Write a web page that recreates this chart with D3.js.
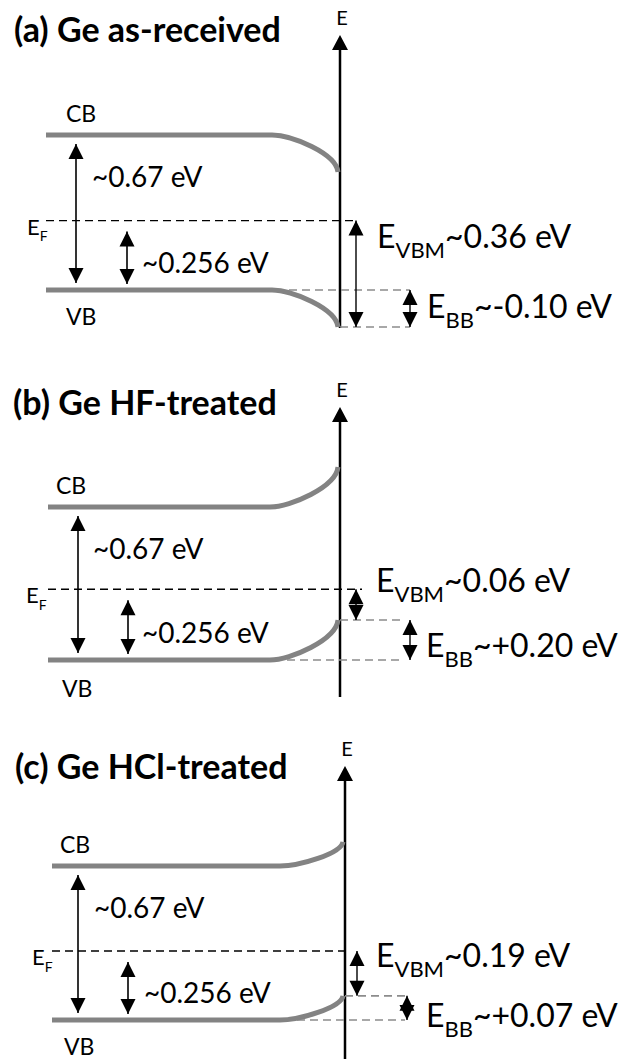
<!DOCTYPE html>
<html>
<head>
<meta charset="utf-8">
<script src="https://cdnjs.cloudflare.com/ajax/libs/d3/7.8.5/d3.min.js"></script>
<style>
    body { margin: 0; background: #fff; }
    svg { display: block; font-family: Lato, "Open Sans", sans-serif; }
</style>
</head>
<body>
<script>
// data (band levels are in eV relative to bulk VB, as drawn)
var panelTags = ["(a)", "(b)", "(c)"];
var panelNames = ["Ge as-received", "Ge HF-treated", "Ge HCl-treated"];
var bandGap = [0.67, 0.67, 0.67];
var fermiDrawn = [0.30, 0.31, 0.30];
var surfaceVB = [-0.16, 0.175, 0.105];
var gapText = "~0.67 eV";
var fermiText = "~0.256 eV";
var evbmText = ["~0.36 eV", "~0.06 eV", "~0.19 eV"];
var ebbText = ["~-0.10 eV", "~+0.20 eV", "~+0.07 eV"];

var w = 626,
    h = 1059;

// layout for each panel
var vbY = [290, 660, 1020],
    cbY = [135, 507, 866],
    lineX0 = [46, 48, 52],
    bendX = [272, 270, 280],
    axisX = [340, 340, 345],
    axisTop = [35, 407, 766],
    axisBottom = [328, 697, 1062],
    titleX = [14, 13, 15],
    titleY = [42, 415, 779],
    cbLabelX = [66, 56, 60],
    vbLabelX = [66, 62, 64],
    vbLabelY = [325, 697, 1055],
    gapArrowX = [76, 78, 78],
    gapLabelX = [92, 93, 94],
    efArrowX = [127, 128, 128],
    efLabelX = [142, 142, 144],
    efNameX = [27, 26, 32],
    efEnd = [358, 362, 345],
    vbmArrowX = [356, 356, 357],
    vbmLabelX = [377, 376, 376],
    vbmLabelY = [248, 592, 967],
    bbArrowX = [410, 410, 407],
    grayEnd = [410, 404, 405],
    bbLabelX = [427, 426, 426],
    bbLabelY = [318, 657, 1027];

var bandColor = "#838383",
    grayDash = "#8c8c8c";

var svg = d3.select("body").append("svg")
    .attr("width", w)
    .attr("height", h);

function arrowHead(g, x, tipY, dir, hw, hh) {
    // dir = -1 points up, +1 points down
    var p = d3.path();
    p.moveTo(x, tipY);
    p.lineTo(x - hw / 2, tipY - dir * hh);
    p.lineTo(x + hw / 2, tipY - dir * hh);
    p.closePath();
    g.append("path").attr("d", p.toString()).attr("fill", "#000");
}

function doubleArrow(g, x, y1, y2, sw) {
    g.append("line")
        .attr("x1", x).attr("x2", x)
        .attr("y1", y1).attr("y2", y2)
        .attr("stroke", "#000")
        .attr("stroke-width", sw);
    arrowHead(g, x, y1, -1, 15, 15);
    arrowHead(g, x, y2, 1, 15, 15);
}

function subLabel(g, x, y, main, sub, rest, size, subSize) {
    var t = g.append("text")
        .attr("x", x).attr("y", y)
        .attr("font-size", size)
        .attr("fill", "#000");
    t.append("tspan").text(main);
    t.append("tspan").attr("font-size", subSize).attr("dy", size * 0.3).text(sub);
    if (rest) {
        t.append("tspan").attr("dy", -size * 0.3).text(rest);
    }
}

function buildPanel(i) {
    var g = svg.append("g").attr("class", "panel-" + i);

    var yScale = d3.scaleLinear()
        .domain([0, bandGap[i]])
        .range([vbY[i], cbY[i]]);

    var yVB = yScale(0),
        yCB = yScale(bandGap[i]),
        yEF = yScale(fermiDrawn[i]),
        yVBs = yScale(surfaceVB[i]),
        yCBs = yScale(surfaceVB[i] + bandGap[i]);

    // title
    g.append("text")
        .attr("x", titleX[i]).attr("y", titleY[i])
        .attr("font-size", 34)
        .attr("font-weight", "bold")
        .text(panelTags[i] + " " + panelNames[i]);

    // energy axis
    g.append("line")
        .attr("x1", axisX[i]).attr("x2", axisX[i])
        .attr("y1", axisTop[i] + 8).attr("y2", axisBottom[i])
        .attr("stroke", "#000")
        .attr("stroke-width", 2.5);
    arrowHead(g, axisX[i], axisTop[i], -1, 16, 15);
    g.append("text")
        .attr("x", axisX[i] + 2).attr("y", axisTop[i] - 10)
        .attr("text-anchor", "middle")
        .attr("font-size", 20)
        .text("E");

    // grey guide lines at bulk and surface VB
    g.append("line")
        .attr("x1", bendX[i] + 4).attr("x2", grayEnd[i])
        .attr("y1", yVB).attr("y2", yVB)
        .attr("stroke", grayDash).attr("stroke-width", 1.6)
        .attr("stroke-dasharray", "8,5");
    g.append("line")
        .attr("x1", axisX[i]).attr("x2", grayEnd[i])
        .attr("y1", yVBs).attr("y2", yVBs)
        .attr("stroke", grayDash).attr("stroke-width", 1.6)
        .attr("stroke-dasharray", "8,5");

    // Fermi level
    g.append("line")
        .attr("x1", lineX0[i]).attr("x2", efEnd[i])
        .attr("y1", yEF).attr("y2", yEF)
        .attr("stroke", "#000").attr("stroke-width", 1.4)
        .attr("stroke-dasharray", "8,5");

    // bands: flat in the bulk, bending towards the surface
    function band(yBulk, ySurf) {
        var p = d3.path();
        var x1 = axisX[i] - 2,
            dx = x1 - bendX[i],
            dy = ySurf - yBulk;
        p.moveTo(lineX0[i], yBulk);
        p.lineTo(bendX[i], yBulk);
        p.bezierCurveTo(bendX[i] + dx * 0.3, yBulk,
            bendX[i] + dx * 0.97, yBulk + dy * 0.5,
            x1, ySurf);
        g.append("path")
            .attr("d", p.toString())
            .attr("fill", "none")
            .attr("stroke", bandColor)
            .attr("stroke-width", 5);
    }
    band(yCB, yCBs);
    band(yVB, yVBs);

    g.append("text").attr("x", cbLabelX[i]).attr("y", yCB - 13)
        .attr("font-size", 23).text("CB");
    g.append("text").attr("x", vbLabelX[i]).attr("y", vbLabelY[i])
        .attr("font-size", 23).text("VB");

    // gap arrow
    doubleArrow(g, gapArrowX[i], yCB + 9, yVB - 7, 1.6);
    g.append("text").attr("x", gapLabelX[i]).attr("y", yCB + 52)
        .attr("font-size", 28).text(gapText);

    // EF - VB arrow
    doubleArrow(g, efArrowX[i], yEF + 11, yVB - 6, 1.6);
    g.append("text").attr("x", efLabelX[i]).attr("y", yVB - 17)
        .attr("font-size", 28).text(fermiText);

    subLabel(g, efNameX[i], yEF + 14, "E", "F", null, 22, 14);

    // E_VBM and E_BB arrows
    doubleArrow(g, vbmArrowX[i], yEF, yVBs, 1.4);
    subLabel(g, vbmLabelX[i], vbmLabelY[i], "E", "VBM", evbmText[i], 32, 22);

    doubleArrow(g, bbArrowX[i], Math.min(yVB, yVBs), Math.max(yVB, yVBs), 1.4);
    subLabel(g, bbLabelX[i], bbLabelY[i], "E", "BB", ebbText[i], 32, 22);
}

panelTags.forEach(function (d, i) {
    buildPanel(i);
});
</script>
</body>
</html>
